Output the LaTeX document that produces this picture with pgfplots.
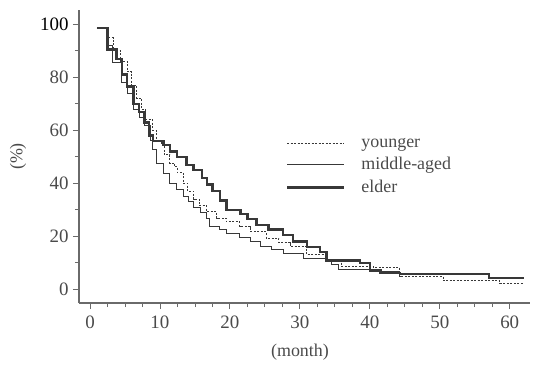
\documentclass[border=0pt]{standalone}
\usepackage{pgfplots}
\pgfplotsset{compat=1.18}
\usepackage{pgfplotstable}
\usepackage{fontspec}
\setmainfont{Liberation Serif}
\definecolor{axgray}{HTML}{6A6A6A}
\definecolor{curve}{HTML}{383838}
\definecolor{lbl}{HTML}{4A4A4A}

\pgfplotstableread{
t v
1 98.6
2.5 90.5
3.8 87
4.6 81
5.3 76.5
6.2 70
7.0 67
7.8 63
8.4 58
9.0 56
10.5 54.5
11.4 52
12.4 50
13.8 47
14.8 45
16.0 42
16.7 39.5
17.5 37
18.6 33.5
19.5 30
21.5 28.5
22.5 26.5
23.8 24.3
25.5 22.5
27.6 20.5
29.0 18
31.0 16
32.9 14
33.8 10.8
38.6 9.8
40.0 7.3
41.5 6.2
44.3 5.8
57.0 4.2
62.0 4.2
}\elder

\pgfplotstableread{
t v
1 98.6
2.6 92
3.2 85.5
4.5 78
5.4 74
6.2 68
7.0 65
7.8 62
8.6 56.3
9.0 52.6
9.5 47.5
10.5 43.8
11.4 40
12.3 37.5
13.3 35
14.1 33
14.8 31
15.8 29
16.7 26.8
17.1 23.6
18.5 22.5
19.5 21.2
21.4 19.4
23.0 18
24.3 16
26.0 15
27.6 13.6
30.5 11.7
33.8 10.5
34.5 9.2
35.5 7.3
40.0 6.6
44.3 5.6
57.0 4.4
62.0 4.4
}\middle

\pgfplotstableread{
t v
1 98.6
2.6 95
3.3 90
4.4 86
5.3 82
6.0 77
6.7 72
7.3 68
8.0 64
9.0 60
9.5 56
10.2 54.5
10.6 50.7
11.4 47.6
12.1 46.3
12.5 44
13.3 40
14.0 37
14.8 34
15.6 31.5
16.7 29.3
18.1 26.8
19.5 25.5
21.4 23.6
22.9 21.7
25.2 19.2
27.0 17.5
28.6 16
31.0 13
33.8 11
36.0 8.5
40.5 8.2
44.3 4.8
50.5 3.2
58.6 2.3
62.0 2.3
}\younger

\begin{document}
\begin{tikzpicture}
\begin{axis}[
  scale only axis, width=451bp, height=293bp,
  xmin=-1.57, xmax=62.9, ymin=-5.2, ymax=105.4,
  axis x line*=bottom, axis y line*=left,
  xtick={0,10,...,60}, ytick={0,20,...,100},
  yticklabels={0,20,40,60,80,\textcolor{black}{100}},
  minor x tick num=3, minor y tick num=1,
  tick align=outside, major tick length=6bp, minor tick length=4bp,
  tick style={axgray, line width=0.8bp},
  axis line style={axgray, line width=1.1bp},
  ticklabel style={font=\fontsize{19}{19}\selectfont, text=lbl},
  /pgf/number format/assume math mode=true,
  xticklabel style={yshift=-3bp},
  yticklabel style={xshift=-1bp},
  xlabel={(month)}, ylabel={(\%)},
  label style={font=\fontsize{18}{18}\selectfont, text=lbl},
  xlabel style={at={(axis description cs:0.49,-0.167)}, anchor=center},
  ylabel style={at={(axis description cs:-0.135,0.5)}, anchor=center},
  legend style={at={(axis description cs:0.452,0.578)}, anchor=north west,
    draw=none, fill=none, font=\fontsize{18}{18}\selectfont, text=lbl,
    row sep=5bp, cells={anchor=west}},
  legend image code/.code={\draw[#1] (0bp,0bp) -- (57bp,0bp);},
  every axis plot/.append style={const plot mark left, no marks},
]
\coordinate (O) at (rel axis cs:0,0);
\addplot[curve, line width=1bp, dash pattern=on 2bp off 1.5bp] table[x=t,y=v] {\younger};
\addlegendentry{\hspace{14bp}younger}
\addplot[curve, line width=0.9bp] table[x=t,y=v] {\middle};
\addlegendentry{\hspace{14bp}middle-aged}
\addplot[curve, line width=2.4bp] table[x=t,y=v] {\elder};
\addlegendentry{\hspace{14bp}elder}
\end{axis}
\pgfresetboundingbox
\path (O) ++(-79bp,-63bp) rectangle ++(533bp,366bp);
\end{tikzpicture}
\end{document}
